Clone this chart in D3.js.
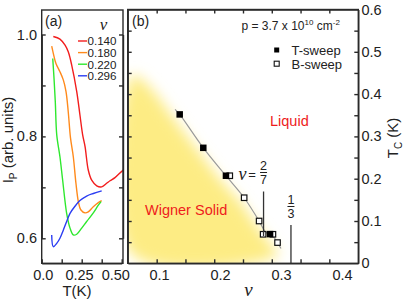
<!DOCTYPE html>
<html>
<head>
<meta charset="utf-8">
<script src="https://cdn.jsdelivr.net/npm/d3@7"></script>
<style>
  body { margin: 0; background: #fff; }
  svg { display: block; font-family: "Liberation Sans", Arial, sans-serif; }
  .ax path, .ax line { stroke: #2a2a2a; stroke-width: 1.4; }
</style>
</head>
<body>
<div id="vis"></div>
<script>
// Panel (a): I_P vs T curves for four filling factors, [T, I] pairs
const NU_LABELS = ["0.140", "0.180", "0.220", "0.296"];
const NU_COLORS = ["#f21d1d", "#ff8a1c", "#2ee82e", "#2b3df2"];
const CURVE_140 = [[0.0725,0.996],[0.114,0.991],[0.146,0.979],[0.166,0.966],[0.1875,0.940],[0.219,0.888],
  [0.239,0.842],[0.256,0.803],[0.271,0.780],[0.291,0.734],[0.3125,0.714],[0.344,0.703],[0.375,0.701],
  [0.406,0.708],[0.427,0.713],[0.458,0.719],[0.506,0.733],[0.53,0.738]];
const CURVE_180 = [[0.0625,0.977],[0.0725,0.963],[0.089,0.943],[0.114,0.927],[0.135,0.911],[0.152,0.888],
  [0.166,0.848],[0.180,0.797],[0.1975,0.760],[0.214,0.708],[0.229,0.672],[0.244,0.656],[0.271,0.650],
  [0.291,0.652],[0.3225,0.662],[0.354,0.670],[0.375,0.674]];
const CURVE_220 = [[0.069,0.953],[0.077,0.914],[0.085,0.868],[0.094,0.803],[0.114,0.760],[0.131,0.714],
  [0.156,0.649],[0.177,0.620],[0.1975,0.6065],[0.219,0.608],[0.25,0.620],[0.281,0.633],[0.3225,0.650],
  [0.354,0.665],[0.371,0.672]];
const CURVE_296 = [[0.0625,0.6065],[0.0725,0.5835],[0.094,0.590],[0.114,0.600],[0.135,0.616],[0.156,0.633],
  [0.177,0.649],[0.208,0.663],[0.239,0.674],[0.281,0.683],[0.3225,0.688],[0.375,0.693]];
const A_X_TICKS = [0, 0.125, 0.25, 0.375, 0.5];
const A_X_LABELS = [[0, "0.0"], [0.25, "0.25"], [0.5, "0.50"]];
const A_Y_TICKS = [0.6, 0.7, 0.8, 0.9, 1.0];
const A_Y_LABELS = [[0.6, "0.6"], [0.8, "0.8"], [1.0, "1.0"]];

// Panel (b): T_C vs nu phase diagram
const T_SWEEP_NU = [0.140, 0.181, 0.2204, 0.297];
const T_SWEEP_TC = [0.352, 0.273, 0.207, 0.069];
const B_SWEEP_NU = [0.227, 0.252, 0.278, 0.285, 0.302, 0.310];
const B_SWEEP_TC = [0.207, 0.155, 0.100, 0.0686, 0.0686, 0.049];
const GUIDE = [[0.132,0.364],[0.140,0.352],[0.181,0.273],[0.2204,0.207],[0.252,0.155],[0.278,0.100],
  [0.289,0.074],[0.302,0.064],[0.310,0.049],[0.316,0.035]];
const SOLID_REGION = [[0.058,0.445],[0.0796,0.428],[0.1057,0.388],[0.1231,0.3547],[0.1665,0.2767],
  [0.2135,0.1939],[0.2447,0.1466],[0.274,0.0885],[0.297,0.048],[0.311,0.02],[0.058,0.02]];
const B_X_TICKS = [0.1, 0.15, 0.2, 0.25, 0.3, 0.35, 0.4];
const B_X_LABELS = [[0.1, "0.1"], [0.2, "0.2"], [0.3, "0.3"], [0.4, "0.4"]];
const B_Y_TICKS = [0.05, 0.1, 0.15, 0.2, 0.25, 0.3, 0.35, 0.4, 0.45, 0.5, 0.55];
const B_Y_LABELS = [[0, "0"], [0.1, "0.1"], [0.2, "0.2"], [0.3, "0.3"], [0.4, "0.4"], [0.5, "0.5"], [0.6, "0.6"]];
const FRAC_27 = 2 / 7, FRAC_13 = 1 / 3;

const WIDTH = 407, HEIGHT = 303;
const PA = {left: 41.7, right: 123, top: 10, bottom: 263.3};
const PB = {left: 127.7, right: 358.3, top: 9.5, bottom: 263.3};
const TICK_FONT = "14.5px";

const svg = d3.select("#vis").append("svg")
  .attr("width", WIDTH).attr("height", HEIGHT);

const defs = svg.append("defs");
defs.append("clipPath").attr("id", "clipA").append("rect")
  .attr("x", PA.left).attr("y", PA.top)
  .attr("width", PA.right - PA.left).attr("height", PA.bottom - PA.top);
defs.append("clipPath").attr("id", "clipB").append("rect")
  .attr("x", PB.left).attr("y", PB.top)
  .attr("width", PB.right - PB.left).attr("height", PB.bottom - PB.top);
defs.append("filter").attr("id", "soft")
  .attr("x", "-20%").attr("y", "-20%").attr("width", "140%").attr("height", "140%")
  .append("feGaussianBlur").attr("stdDeviation", 7);

// ---------- panel (a) ----------
const xA = d3.scaleLinear().domain([0, 0.5]).range([41.7, 121.7]);
const yA = d3.scaleLinear().domain([0.6, 1.0]).range([238.3, 34.5]);
const xALabel = d3.scaleLinear().domain([0, 0.5]).range([43.3, 115.8]);

const lineA = d3.line().x(d => xA(d[0])).y(d => yA(d[1])).curve(d3.curveCatmullRom);
const curves = [CURVE_140, CURVE_180, CURVE_220, CURVE_296];
svg.append("g").attr("clip-path", "url(#clipA)")
  .selectAll("path").data(curves).enter().append("path")
    .attr("d", lineA)
    .attr("fill", "none")
    .attr("stroke", (d, i) => NU_COLORS[i])
    .attr("stroke-width", 1.4);

svg.append("g").attr("class", "ax")
  .attr("transform", "translate(0," + PA.bottom + ")")
  .call(d3.axisBottom(xA).tickValues(A_X_TICKS).tickSize(-4).tickSizeOuter(0).tickFormat(""));
svg.append("g").attr("class", "ax")
  .attr("transform", "translate(" + PA.left + ",0)")
  .call(d3.axisLeft(yA).tickValues(A_Y_TICKS).tickSize(-4).tickSizeOuter(0).tickFormat(""));
svg.append("g").attr("class", "ax")
  .attr("transform", "translate(" + PA.right + ",0)")
  .call(d3.axisRight(yA).tickValues(A_Y_TICKS).tickSize(-4).tickSizeOuter(0).tickFormat(""));
svg.append("rect")
  .attr("x", PA.left).attr("y", PA.top)
  .attr("width", PA.right - PA.left).attr("height", PA.bottom - PA.top)
  .attr("fill", "none").attr("stroke", "#2a2a2a").attr("stroke-width", 1.4);

svg.selectAll(".alx").data(A_X_LABELS).enter().append("text")
  .attr("x", d => xALabel(d[0])).attr("y", 280)
  .attr("text-anchor", "middle").attr("font-size", TICK_FONT).attr("fill", "#222")
  .text(d => d[1]);
svg.selectAll(".aly").data(A_Y_LABELS).enter().append("text")
  .attr("x", 37).attr("y", d => yA(d[0]) + 5)
  .attr("text-anchor", "end").attr("font-size", TICK_FONT).attr("fill", "#222")
  .text(d => d[1]);

// legend of panel (a)
svg.append("text")
  .attr("x", 103.5).attr("y", 30)
  .attr("text-anchor", "middle")
  .attr("font-family", "'Liberation Serif', 'DejaVu Serif', serif")
  .attr("font-style", "italic").attr("font-size", "17px").attr("fill", "#222")
  .text("\u03bd");
const legA = svg.selectAll(".lega").data(NU_LABELS).enter().append("g")
  .attr("transform", (d, i) => "translate(0," + (41 + i * 11.6) + ")");
legA.append("line")
  .attr("x1", 78).attr("x2", 87).attr("y1", 0).attr("y2", 0)
  .attr("stroke", (d, i) => NU_COLORS[i]).attr("stroke-width", 1.4);
legA.append("text")
  .attr("x", 87.5).attr("y", 4.3).attr("font-size", "11.6px").attr("fill", "#222")
  .text(d => d);

svg.append("text").attr("x", 45).attr("y", 25.5)
  .attr("font-size", "14px").attr("fill", "#222").text("(a)");
svg.append("text").attr("x", 77).attr("y", 296)
  .attr("text-anchor", "middle").attr("font-size", "15px").attr("fill", "#222").text("T(K)");

const ipLabel = svg.append("text")
  .attr("transform", "translate(13,140) rotate(-90)")
  .attr("text-anchor", "middle").attr("font-size", "15px").attr("fill", "#222");
ipLabel.append("tspan").text("I");
ipLabel.append("tspan").attr("font-size", "10px").attr("dy", 4).text("P");
ipLabel.append("tspan").attr("dy", -4).text(" (arb. units)");

// ---------- panel (b) ----------
const xB = d3.scaleLinear().domain([0.05, 0.45]).range([127.9, 358.1]);
const yB = d3.scaleLinear().domain([0, 0.6]).range([263.3, 9.5]);
const xBLabel = d3.scaleLinear().domain([0.1, 0.4]).range([159.5, 342.5]);

const gB = svg.append("g").attr("clip-path", "url(#clipB)");
gB.append("path")
  .datum(SOLID_REGION)
  .attr("d", d3.line().x(d => xB(d[0])).y(d => yB(d[1])).curve(d3.curveCatmullRomClosed))
  .attr("fill", "#fdec84")
  .attr("filter", "url(#soft)");

gB.append("path")
  .datum(GUIDE)
  .attr("d", d3.line().x(d => xB(d[0])).y(d => yB(d[1])).curve(d3.curveCatmullRom))
  .attr("fill", "none").attr("stroke", "#9a9a9a").attr("stroke-width", 1.2);

// fraction markers
svg.append("line")
  .attr("x1", xB(FRAC_27)).attr("x2", xB(FRAC_27))
  .attr("y1", 191.5).attr("y2", 236)
  .attr("stroke", "#333").attr("stroke-width", 1.3);
svg.append("line")
  .attr("x1", xB(FRAC_13)).attr("x2", xB(FRAC_13))
  .attr("y1", 225).attr("y2", PB.bottom)
  .attr("stroke", "#333").attr("stroke-width", 1.3);

const SQ = 5.5;
gB.selectAll(".bs").data(B_SWEEP_NU).enter().append("rect")
  .attr("x", (d) => xB(d) - SQ / 2)
  .attr("y", (d, i) => yB(B_SWEEP_TC[i]) - SQ / 2)
  .attr("width", SQ).attr("height", SQ)
  .attr("fill", "#fff").attr("stroke", "#111").attr("stroke-width", 1.2);
gB.selectAll(".ts").data(T_SWEEP_NU).enter().append("rect")
  .attr("x", (d) => xB(d) - SQ / 2 - 0.5)
  .attr("y", (d, i) => yB(T_SWEEP_TC[i]) - SQ / 2 - 0.5)
  .attr("width", SQ + 1).attr("height", SQ + 1)
  .attr("fill", "#000");

svg.append("g").attr("class", "ax")
  .attr("transform", "translate(0," + PB.bottom + ")")
  .call(d3.axisBottom(xB).tickValues(B_X_TICKS).tickSize(-4).tickSizeOuter(0).tickFormat(""));
svg.append("g").attr("class", "ax")
  .attr("transform", "translate(0," + PB.top + ")")
  .call(d3.axisTop(xB).tickValues(B_X_TICKS).tickSize(-4).tickSizeOuter(0).tickFormat(""));
svg.append("g").attr("class", "ax")
  .attr("transform", "translate(" + PB.left + ",0)")
  .call(d3.axisLeft(yB).tickValues(B_Y_TICKS).tickSize(-4).tickSizeOuter(0).tickFormat(""));
svg.append("g").attr("class", "ax")
  .attr("transform", "translate(" + PB.right + ",0)")
  .call(d3.axisRight(yB).tickValues(B_Y_TICKS).tickSize(-4).tickSizeOuter(0).tickFormat(""));
svg.append("rect")
  .attr("x", PB.left).attr("y", PB.top)
  .attr("width", PB.right - PB.left).attr("height", PB.bottom - PB.top)
  .attr("fill", "none").attr("stroke", "#2a2a2a").attr("stroke-width", 1.4);

svg.selectAll(".blx").data(B_X_LABELS).enter().append("text")
  .attr("x", d => xBLabel(d[0])).attr("y", 280)
  .attr("text-anchor", "middle").attr("font-size", TICK_FONT).attr("fill", "#222")
  .text(d => d[1]);
svg.selectAll(".bly").data(B_Y_LABELS).enter().append("text")
  .attr("x", 361.5).attr("y", d => yB(d[0]) + 5)
  .attr("font-size", TICK_FONT).attr("fill", "#222")
  .text(d => d[1]);

// annotations
svg.append("text").attr("x", 132).attr("y", 26)
  .attr("font-size", "14px").attr("fill", "#222").text("(b)");

const dens = svg.append("text").attr("x", 241.5).attr("y", 29.5)
  .attr("font-size", "12px").attr("fill", "#222");
dens.append("tspan").text("p = 3.7 x 10");
dens.append("tspan").attr("font-size", "8px").attr("dy", -5).text("10");
dens.append("tspan").attr("dy", 5).text(" cm");
dens.append("tspan").attr("font-size", "8px").attr("dy", -5).text("-2");

svg.append("rect").attr("x", 274.2).attr("y", 47.5).attr("width", 5).attr("height", 5).attr("fill", "#000");
svg.append("rect").attr("x", 274.2).attr("y", 61.2).attr("width", 5).attr("height", 5)
  .attr("fill", "#fff").attr("stroke", "#111").attr("stroke-width", 1.1);
svg.append("text").attr("x", 291.5).attr("y", 55).attr("font-size", "13px").attr("fill", "#222").text("T-sweep");
svg.append("text").attr("x", 291.5).attr("y", 68.5).attr("font-size", "13px").attr("fill", "#222").text("B-sweep");

svg.append("text").attr("x", 270).attr("y", 125.5)
  .attr("font-size", "14.5px").attr("fill", "#ee1c1c").text("Liquid");
svg.append("text").attr("x", 145).attr("y", 214.5)
  .attr("font-size", "14.5px").attr("fill", "#ee1c1c").text("Wigner Solid");

// nu = 2/7 and 1/3 labels
svg.append("text").attr("x", 242.5).attr("y", 180)
  .attr("text-anchor", "middle")
  .attr("font-family", "'Liberation Serif', 'DejaVu Serif', serif")
  .attr("font-style", "italic").attr("font-size", "18px").attr("fill", "#222")
  .text("\u03bd");
svg.append("text").attr("x", 252).attr("y", 179)
  .attr("text-anchor", "middle").attr("font-size", "13px").attr("fill", "#222").text("=");
function fraction(cx, topY, num, den) {
  svg.append("text").attr("x", cx).attr("y", topY + 9)
    .attr("text-anchor", "middle").attr("font-size", "12.5px").attr("fill", "#222").text(num);
  svg.append("line").attr("x1", cx - 3.5).attr("x2", cx + 3.5)
    .attr("y1", topY + 11.5).attr("y2", topY + 11.5)
    .attr("stroke", "#222").attr("stroke-width", 1);
  svg.append("text").attr("x", cx).attr("y", topY + 23)
    .attr("text-anchor", "middle").attr("font-size", "12.5px").attr("fill", "#222").text(den);
}
fraction(xB(FRAC_27), 161, "2", "7");
fraction(xB(FRAC_13), 195, "1", "3");

svg.append("text").attr("x", 248.5).attr("y", 296)
  .attr("text-anchor", "middle")
  .attr("font-family", "'Liberation Serif', 'DejaVu Serif', serif")
  .attr("font-style", "italic").attr("font-size", "19px").attr("fill", "#222")
  .text("\u03bd");

const tcLabel = svg.append("text")
  .attr("transform", "translate(398,138) rotate(-90)")
  .attr("text-anchor", "middle").attr("font-size", "15px").attr("fill", "#222");
tcLabel.append("tspan").text("T");
tcLabel.append("tspan").attr("font-size", "10px").attr("dy", 4).text("C");
tcLabel.append("tspan").attr("dy", -4).text(" (K)");
</script>
</body>
</html>
